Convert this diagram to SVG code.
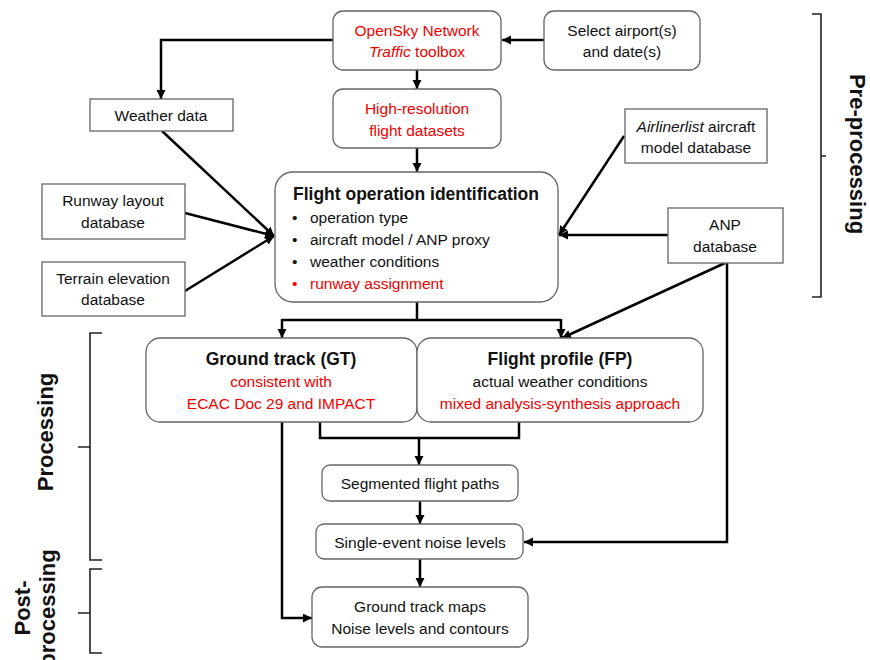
<svg xmlns="http://www.w3.org/2000/svg" width="870" height="660" viewBox="0 0 870 660">
<style>
text{font-family:"Liberation Sans",Arial,sans-serif;font-size:15.5px;fill:#111}
.c{text-anchor:middle}
.b{font-weight:bold;font-size:17.5px}
.r{fill:#f00000}
.i{font-style:italic}
.side{font-weight:bold;font-size:22px;text-anchor:middle}
.box{fill:#fff;stroke:#666;stroke-width:1.3}
.con{fill:none;stroke:#000;stroke-width:2.5}
.arr{marker-end:url(#ah)}
.br{fill:none;stroke:#222;stroke-width:1.6}
</style>
<defs>
<marker id="ah" markerUnits="userSpaceOnUse" markerWidth="10" markerHeight="10" refX="9" refY="4.5" orient="auto">
<path d="M0,0 L9,4.5 L0,9 z" fill="#000"/>
</marker>
</defs>
<rect width="870" height="660" fill="#fff"/>

<g id="connectors">
<path class="con arr" d="M544,40 H502"/>
<path class="con arr" d="M333,40 H161 V99"/>
<path class="con arr" d="M417,70 V89"/>
<path class="con arr" d="M417,148 V172"/>
<path class="con arr" d="M162,131 L274,236"/>
<path class="con arr" d="M185,213 L274,236"/>
<path class="con arr" d="M185,291 L274,236"/>
<path class="con arr" d="M624,136 L559,235"/>
<path class="con arr" d="M668,235 H559"/>
<path class="con" d="M417,302 V320 M282,320 H561"/>
<path class="con arr" d="M282,319 V338"/>
<path class="con arr" d="M561,319 V338"/>
<path class="con arr" d="M725,263 L562,338"/>
<path class="con arr" d="M727,263 V542 H524"/>
<path class="con" d="M320,422 V438 H519 V422"/>
<path class="con arr" d="M419,438 V465"/>
<path class="con arr" d="M420,501 V524"/>
<path class="con arr" d="M420,559 V587"/>
<path class="con arr" d="M282,422 V618 H312"/>
</g>

<g id="opensky">
<rect class="box" x="333" y="11" width="168" height="59" rx="10"/>
<text class="c r" x="417" y="36">OpenSky Network</text>
<text class="c r" x="417" y="57"><tspan class="i">Traffic</tspan><tspan fill="#f00000"> toolbox</tspan></text>
</g>
<g id="select">
<rect class="box" x="544" y="11" width="156" height="59" rx="10"/>
<text class="c" x="622" y="36">Select airport(s)</text>
<text class="c" x="622" y="57">and date(s)</text>
</g>
<g id="weather">
<rect class="box" x="90" y="99" width="143" height="32"/>
<text class="c" x="161" y="121">Weather data</text>
</g>
<g id="highres">
<rect class="box" x="333" y="89" width="168" height="59" rx="10"/>
<text class="c r" x="417" y="114">High-resolution</text>
<text class="c r" x="417" y="136">flight datasets</text>
</g>
<g id="airliner">
<rect class="box" x="625" y="109" width="142" height="54"/>
<text class="c" x="696" y="132"><tspan class="i">Airlinerlist</tspan> aircraft</text>
<text class="c" x="696" y="153">model database</text>
</g>
<g id="runway">
<rect class="box" x="42" y="184" width="143" height="55"/>
<text class="c" x="113" y="206">Runway layout</text>
<text class="c" x="113" y="228">database</text>
</g>
<g id="terrain">
<rect class="box" x="42" y="262" width="143" height="54"/>
<text class="c" x="113" y="284">Terrain elevation</text>
<text class="c" x="113" y="305">database</text>
</g>
<g id="flightop">
<rect class="box" x="275" y="172" width="283" height="130" rx="18"/>
<text class="b" x="293" y="200">Flight operation identification</text>
<text x="292" y="223">•</text><text x="310" y="223">operation type</text>
<text x="292" y="245">•</text><text x="310" y="245">aircraft model / ANP proxy</text>
<text x="292" y="267">•</text><text x="310" y="267">weather conditions</text>
<text class="r" x="292" y="289">•</text><text class="r" x="310" y="289">runway assignment</text>
</g>
<g id="anp">
<rect class="box" x="668" y="208" width="115" height="55"/>
<text class="c" x="725" y="230">ANP</text>
<text class="c" x="725" y="252">database</text>
</g>
<g id="gt">
<rect class="box" x="146" y="338" width="271" height="84" rx="14"/>
<text class="c b" x="281" y="365">Ground track (GT)</text>
<text class="c r" x="281" y="387">consistent with</text>
<text class="c r" x="281" y="409">ECAC Doc 29 and IMPACT</text>
</g>
<g id="fp">
<rect class="box" x="417" y="338" width="286" height="84" rx="14"/>
<text class="c b" x="560" y="365">Flight profile (FP)</text>
<text class="c" x="560" y="387">actual weather conditions</text>
<text class="c r" x="560" y="409">mixed analysis-synthesis approach</text>
</g>
<g id="segmented">
<rect class="box" x="322" y="465" width="196" height="36" rx="8"/>
<text class="c" x="420" y="489">Segmented flight paths</text>
</g>
<g id="single">
<rect class="box" x="316" y="524" width="207" height="35" rx="8"/>
<text class="c" x="420" y="548">Single-event noise levels</text>
</g>
<g id="maps">
<rect class="box" x="312" y="587" width="216" height="60" rx="10"/>
<text class="c" x="420" y="612">Ground track maps</text>
<text class="c" x="420" y="634">Noise levels and contours</text>
</g>

<g id="phases">
<path class="br" d="M812,14 H821 V297 H812 M821,156 H826"/>
<text class="side" transform="translate(857,154) rotate(90)" x="0" y="7">Pre-processing</text>
<path class="br" d="M102,333 H90 V560 H102 M90,447 H78"/>
<text class="side" transform="translate(45,432) rotate(-90)" x="0" y="8">Processing</text>
<path class="br" d="M102,569 H90 V653 H102 M90,613 H78"/>
<text class="side" transform="translate(0,608) rotate(-90)" x="0" y="30">Post-</text>
<text class="side" transform="translate(0,608) rotate(-90)" x="0" y="55">processing</text>
</g>
</svg>
